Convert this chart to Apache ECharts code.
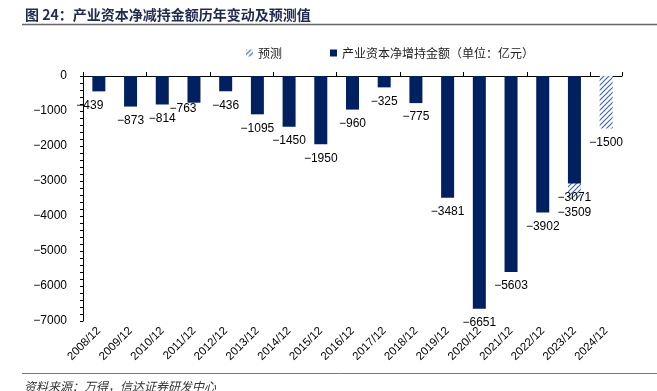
<html>
<head>
<meta charset="utf-8" />
<title>产业资本净减持金额</title>
<script src="https://cdn.jsdelivr.net/npm/echarts@6/dist/echarts.min.js"></script>
</head>
<body style="margin:0;background:#fff">
<div id="chart" style="width:657px;height:391px"></div>
<script type="text/javascript">
// data
var years = ['2008/12','2009/12','2010/12','2011/12','2012/12','2013/12','2014/12','2015/12','2016/12',
             '2017/12','2018/12','2019/12','2020/12','2021/12','2022/12','2023/12','2024/12'];
var actual = [-439,-873,-814,-763,-436,-1095,-1450,-1950,-960,-325,-775,-3481,-6651,-5603,-3902,-3071,null];
var forecast = [null,null,null,null,null,null,null,null,null,null,null,null,null,null,null,-3509,-1500];
var yTicks = [0,-1000,-2000,-3000,-4000,-5000,-6000,-7000];

var numFont = '"Liberation Sans", Arial, sans-serif';
var cjkFont = '"Noto Sans CJK SC", sans-serif';

function minus(v){ return String(v).replace('-', '\u2212'); }

// hatch pattern for the forecast bars
var hatch = document.createElement('canvas');
hatch.width = 5; hatch.height = 5;
var hc = hatch.getContext('2d');
hc.fillStyle = '#fff'; hc.fillRect(0,0,5,5);
hc.strokeStyle = '#3a5fb5'; hc.lineWidth = 1.1;
hc.beginPath();
hc.moveTo(-1,6); hc.lineTo(6,-1);
hc.moveTo(-1,1); hc.lineTo(1,-1);
hc.moveTo(4,6); hc.lineTo(6,4);
hc.stroke();

var actualData = actual.map(function(v, i){
  if (v === null) return '-';
  var d = {value: v};
  if (i === 0) d.label = {offset: [-9, 0]};
  if (i === 3) d.label = {offset: [-11, -8]};
  return d;
});
var forecastData = forecast.map(function(v){ return v === null ? '-' : v; });

var chart = echarts.init(document.getElementById('chart'));
var option = {
  animation: false,
  title: {
    text: '图 24：产业资本净减持金额历年变动及预测值',
    left: 20, top: 3,
    textStyle: {fontFamily: cjkFont, fontSize: 14, fontWeight: 'bold', color: '#1f2a50'}
  },
  legend: {
    left: 241, top: 42,
    itemWidth: 7, itemHeight: 7, itemGap: 48,
    textStyle: {fontFamily: cjkFont, fontSize: 12, color: '#222'},
    data: [{name: '预测', icon: 'rect'}, {name: '产业资本净增持金额（单位：亿元）', icon: 'rect'}]
  },
  grid: {left: 83, right: 35, top: 76, bottom: 70},
  xAxis: [{
    type: 'category', data: years, position: 'top',
    axisLine: {lineStyle: {color: '#000', width: 1}},
    axisTick: {show: true, length: 4, lineStyle: {color: '#000'}},
    axisLabel: {show: false}
  }, {
    type: 'category', data: years, position: 'bottom',
    axisLine: {show: false}, axisTick: {show: false},
    axisLabel: {rotate: 45, margin: 8, fontFamily: numFont, fontSize: 11.5, color: '#000', interval: 0}
  }],
  yAxis: {
    type: 'value', min: -7000, max: 0, interval: 1000,
    axisLine: {show: true, lineStyle: {color: '#000'}},
    axisTick: {show: true, length: 3, lineStyle: {color: '#000'}},
    minorTick: {show: true, splitNumber: 5, length: 3, lineStyle: {color: '#000'}},
    splitLine: {show: false},
    axisLabel: {margin: 16, fontFamily: numFont, fontSize: 12, color: '#000',
      formatter: function(v){ return yTicks.indexOf(v) >= 0 ? minus(v) : ''; }}
  },
  series: [{
    name: '预测', type: 'bar', xAxisIndex: 0, barWidth: '41%',
    data: forecastData,
    itemStyle: {color: {image: hatch, repeat: 'repeat'}},
    label: {show: true, position: 'bottom', distance: 8, fontFamily: numFont, fontSize: 12, color: '#000',
      formatter: function(p){ return minus(p.value); }}
  }, {
    name: '产业资本净增持金额（单位：亿元）', type: 'bar', xAxisIndex: 0, barWidth: '41%', barGap: '-100%',
    data: actualData,
    itemStyle: {color: '#002060'},
    label: {show: true, position: 'bottom', distance: 8, fontFamily: numFont, fontSize: 12, color: '#000',
      formatter: function(p){ return minus(p.value); }}
  }],
  graphic: [
    {type: 'line', shape: {x1: 22, y1: 24.5, x2: 657, y2: 24.5}, style: {stroke: '#666', lineWidth: 1.5}},
    {type: 'line', shape: {x1: 22, y1: 373.5, x2: 657, y2: 373.5}, style: {stroke: '#777', lineWidth: 1}},
    {type: 'text', left: 24, top: 380,
      style: {text: '资料来源：万得，信达证券研发中心', font: 'italic 12px "Noto Sans CJK SC", sans-serif', fill: '#333'}}
  ]
};
chart.setOption(option);
</script>
</body>
</html>
